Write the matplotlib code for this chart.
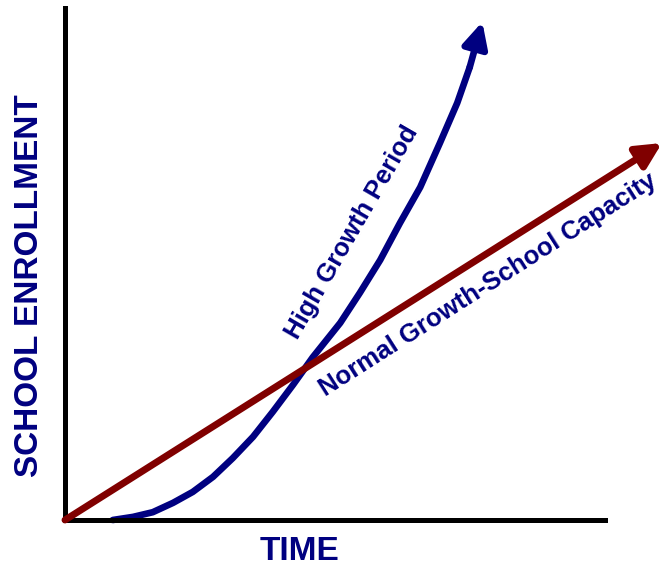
import matplotlib
matplotlib.use("Agg")
import matplotlib.pyplot as plt

# data (arbitrary units: time 0..10, enrollment 0..10)
normal_time = [0.0, 10.0]
normal_enroll = [0.0, 7.25]

high_time = [0.80, 1.14, 1.47, 1.81, 2.14, 2.48, 2.81, 3.15, 3.48, 3.82, 4.15,
             4.61, 4.94, 5.28, 5.61, 5.95, 6.28, 6.57, 6.78]
high_enroll = [0.0, 0.06, 0.15, 0.33, 0.54, 0.83, 1.19, 1.60, 2.08, 2.60, 3.13,
               3.79, 4.37, 5.00, 5.71, 6.40, 7.25, 8.02, 8.71]
high_tip = (6.99, 9.58)

navy = '#000080'
maroon = '#800000'

plt.rcParams['font.family'] = ['Liberation Sans', 'DejaVu Sans']

fig = plt.figure(figsize=(6.62, 5.69), dpi=100)
ax = fig.add_axes([65 / 662, 49 / 569, 597 / 662, 520 / 569])
ax.set_xlim(0, 10)
ax.set_ylim(0, 10)
ax.set_xticks([])
ax.set_yticks([])
for s in ['top', 'right']:
    ax.spines[s].set_visible(False)
ax.spines['left'].set_linewidth(3.6)
ax.spines['bottom'].set_linewidth(3.6)
ax.spines['left'].set_bounds(0, 9.85)
ax.spines['bottom'].set_bounds(0, 9.05)
ax.spines['left'].set_capstyle('projecting')
ax.spines['bottom'].set_capstyle('projecting')

# normal growth line with arrow
ax.annotate('', xy=(normal_time[1], normal_enroll[1]), xytext=(normal_time[0], normal_enroll[0]),
            arrowprops=dict(arrowstyle='-|>,head_length=0.5,head_width=0.25', color=maroon,
                            lw=5, mutation_scale=30, shrinkA=0, shrinkB=0),
            annotation_clip=False)

# high growth curve
ax.plot(high_time, high_enroll, color=navy, lw=4.8, solid_capstyle='round',
        solid_joinstyle='round', clip_on=False)
ax.annotate('', xy=high_tip, xytext=(high_time[-1], high_enroll[-1]),
            arrowprops=dict(arrowstyle='-|>,head_length=0.5,head_width=0.25', color=navy,
                            lw=4.8, mutation_scale=30, shrinkA=0, shrinkB=0),
            annotation_clip=False)

ax.text(4.80, 5.54, 'High Growth Period', rotation=60, color=navy, fontsize=18.5,
        fontweight='bold', ha='center', va='center', rotation_mode='anchor')
ax.text(7.09, 4.52, 'Normal Growth-School Capacity', rotation=32.5, color=navy, fontsize=18.5,
        fontweight='bold', ha='center', va='center', rotation_mode='anchor')

fig.text(300 / 662, 1 - 552 / 569, 'TIME', color=navy, fontsize=24, fontweight='bold',
         ha='center', va='center')
fig.text(30 / 662, 1 - 286 / 569, 'SCHOOL ENROLLMENT', color=navy, fontsize=24,
         fontweight='bold', ha='center', va='center', rotation=90)

fig.savefig('out.png', dpi=100)
